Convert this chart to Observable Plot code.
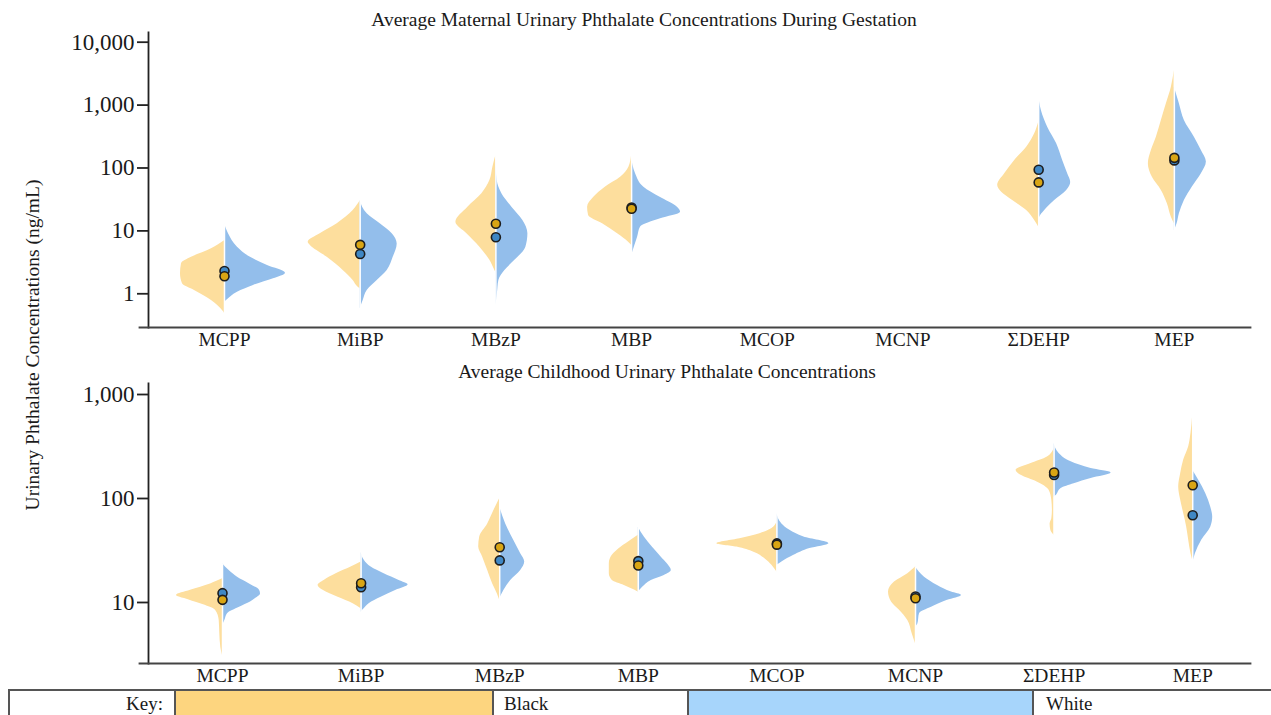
<!DOCTYPE html>
<html>
<head>
<meta charset="utf-8">
<script src="https://cdn.jsdelivr.net/npm/d3@7"></script>
<script src="https://cdn.jsdelivr.net/npm/@observablehq/plot@0.6"></script>
<style>
  html, body { margin: 0; padding: 0; background: #fff; overflow: hidden; }
  #page { position: relative; width: 1271px; height: 715px; font-family: "Liberation Serif", "Times New Roman", serif; color: #1a1a1a; }
  .title { position: absolute; width: 800px; text-align: center; font-size: 19.5px; line-height: 22px; white-space: nowrap; }
  .panel { position: absolute; left: 0; }
  .panel svg { max-width: none; }
  #ylabel { position: absolute; left: -167px; top: 334px; width: 400px; text-align: center; font-size: 19.5px; line-height: 22px; transform: rotate(-90deg); white-space: nowrap; }
  .cell { position: absolute; top: 689px; height: 34px; box-sizing: border-box; border: 2px solid #555; border-right: none; font-size: 19px; line-height: 26px; }
</style>
</head>
<body>
<div id="page">
  <div class="title" style="left:244px; top:9px;">Average Maternal Urinary Phthalate Concentrations During Gestation</div>
  <div class="panel" id="gestation" style="top:30px;"></div>
  <div class="title" style="left:267px; top:361px;">Average Childhood Urinary Phthalate Concentrations</div>
  <div class="panel" id="childhood" style="top:380px;"></div>
  <div id="ylabel">Urinary Phthalate Concentrations (ng/mL)</div>
  <div class="cell" style="left:8px; width:167px; text-align:right; padding-right:12px;">Key:</div>
  <div class="cell" style="left:174px; width:319px; background:#FDD57F;"></div>
  <div class="cell" style="left:492px; width:196px; padding-left:10px;">Black</div>
  <div class="cell" style="left:687px; width:346px; background:#A7D5FB;"></div>
  <div class="cell" style="left:1032px; width:260px; padding-left:12px;">White</div>
</div>
<script>
// Phthalate metabolites, in axis order
const categories = ["MCPP", "MiBP", "MBzP", "MBP", "MCOP", "MCNP", "\u03A3DEHP", "MEP"];

const gestationTicks = [1, 10, 100, 1000, 10000];
const childhoodTicks = [10, 100, 1000];

// Group means (ng/mL); null where the metabolite was not measured
const gestationBlackMean = [1.9, 6.0, 13, 22.5, null, null, 59, 145];
const gestationWhiteMean = [2.3, 4.3, 7.9, 23.5, null, null, 94, 132];
const childhoodBlackMean = [10.6, 15.3, 34, 22.7, 36, 11.0, 178, 134];
const childhoodWhiteMean = [12.3, 14.0, 25.4, 25, 37, 11.4, 168, 69];

// Density profiles: [concentration (ng/mL), density] from high to low concentration
const gestationBlackDensity = [
  [[7.0,0],[5.2,13],[3.8,33],[3.0,43],[2.08,44],[1.44,42],[1.13,30],[0.78,13],[0.54,2],[0.49,0]],
  [[30,0],[21,7],[13,23],[9,40],[6.6,52],[5.9,50],[3.8,33],[2.35,17],[1.63,7],[1.27,2],[1.2,0]],
  [[158,0],[103,3],[63,6],[39,14],[23.8,28],[13.7,40],[9,29],[5.5,16],[3.4,6],[2.35,1],[2.2,0]],
  [[158,0],[103,2.7],[71,11],[50,26],[34,38],[23.8,44],[17.6,43],[13,29],[9,14],[6.6,3],[5.9,0]],
  [],
  [],
  [[535,0],[350,4],[214,12],[132,24],[81,34],[53,41],[41,37],[30.4,26],[21,12],[14.6,4],[11.5,0]],
  [[3550,0],[1930,3],[1050,8],[570,13],[309,18],[190,23],[117,26],[71,22],[44,13],[27,7],[16.5,3],[13,0]]
];
const gestationWhiteDensity = [
  [[13,0],[9,4],[5.5,13],[3.8,26],[2.82,43],[2.13,61],[1.73,49],[1.36,29],[1.06,13],[0.78,2],[0.73,0]],
  [[30,0],[18.7,7],[13,20],[9,32],[6.2,37],[3.8,33],[2.35,27],[1.63,17],[1.13,7],[0.78,3],[0.58,0]],
  [[140,0],[63,1.3],[39,6],[23.8,16],[14.6,27],[9,32],[5.5,30],[3.4,19],[2.35,9],[1.63,3],[1.0,1.5],[0.65,0]],
  [[149,0],[81,4],[50,12],[34,29],[25,44],[19.8,49],[15.6,29],[11.5,9],[7.9,6],[5.5,2.7],[4.06,0]],
  [],
  [],
  [[1420,0],[820,2.7],[445,9],[243,18],[132,24],[81,29],[59,32],[44,28],[30.4,16],[21,6],[16.5,1],[14.6,0]],
  [[1930,0],[1050,5],[570,10],[309,20],[190,27],[124,32],[81,27],[50,18],[30.4,10],[18.7,5],[13,2.7],[10.1,0]]
];
const childhoodBlackDensity = [
  [[16.9,0],[15.1,12],[13.1,32],[11.7,46],[10.9,38],[9.7,22],[8.4,7],[6.7,3.3],[5.0,2.7],[3.7,1.7],[3.1,0]],
  [[24.5,0],[21.9,10],[18.9,25],[16.3,37],[14.6,43],[13.1,38],[11.2,23],[9.7,8],[8.7,0]],
  [[100,0],[77,5.7],[57,12],[42.6,20],[34.1,21],[27.3,17],[20.3,12],[15.1,7],[12.1,2.3],[10.5,0]],
  [[44.3,0],[39.6,7.3],[34.1,17],[28.4,26],[23.6,29],[18.9,29],[16.3,26],[14.6,14],[13.1,3.3],[12.6,0]],
  [[59.4,0],[53,3.3],[45.9,17],[41.1,37],[36.8,60],[34.1,40],[30.5,23],[26.4,12],[22.8,5],[19.6,0]],
  [[21.9,0],[18.9,7.7],[15.7,21],[12.6,27],[10.1,24],[8.4,16],[6.7,7.7],[5.0,3.3],[4.0,0]],
  [[303,0],[251,6.7],[217,23],[187,38],[167,33],[144,17],[120,5],[96,2.3],[77,1.7],[64,2.3],[57,4],[49.4,3.3],[44.3,0]],
  [[634,0],[423,1.7],[314,4],[234,9],[174,12],[129,14],[96,12],[71.6,9],[53,6],[39.6,4],[29.4,1.7],[25.4,0]]
];
const childhoodWhiteDensity = [
  [[23.6,0],[20.3,6.7],[17.5,15],[15.1,27],[13.1,37],[12.1,38],[10.9,33],[10.1,28],[9.0,17],[7.8,5],[6.7,2.3],[6.0,0]],
  [[30.5,0],[25.4,3.3],[21.9,10],[18.9,23],[16.3,38],[14.8,47],[13.1,35],[11.2,20],[9.7,8],[8.7,3],[8.1,0]],
  [[83,0],[57,6],[39.6,14],[29.4,21],[24.5,25],[20.3,21],[16.3,11],[13.1,4.3],[10.9,0]],
  [[53,0],[42.6,6],[34.1,14],[27.3,23],[23.6,29],[20.3,33],[18.2,26],[16.3,13],[14.0,4.3],[12.6,0]],
  [[71.6,0],[57,5],[49.4,13],[42.6,27],[36.8,52],[33,33],[28.4,17],[24.5,5],[22.8,0]],
  [[21.9,0],[17.5,9],[14.6,22],[12.6,36],[11.7,46],[10.5,32],[9.0,16],[7.8,4],[6.2,2.3],[5.8,0]],
  [[339,0],[271,5],[225,17],[194,37],[176,57],[156,37],[139,20],[125,7],[107,2],[103,0]],
  [[187,0],[150,6],[112,13],[83,18],[66,20],[53,18],[39.6,9],[29.4,2.7],[23.6,0]]
];

const BLACK_FILL = "#FDDE9D";
const WHITE_FILL = "#93BEEB";
const BLACK_DOT = "#D9A514";
const WHITE_DOT = "#3F87C4";

// Half-violin outline rows; side -1 draws to the left of the category, +1 to the right
function halfViolin(profiles, side, k) {
  return profiles.flatMap((p, i) =>
    p.map(([v, d]) => ({cat: categories[i], i, v, edge: i + side * d * k})));
}

function spines(black, white) {
  return categories.map((cat, i) => {
    const vs = [...black[i], ...white[i]].map(d => d[0]);
    return vs.length ? {i, lo: d3.min(vs), hi: d3.max(vs)} : null;
  }).filter(Boolean);
}

function means(arr) {
  return arr.map((m, i) => ({i, m})).filter(d => d.m != null);
}

function violinPanel({black, white, blackMean, whiteMean, ticks, height, marginTop, marginBottom, xDomain, yDomain, k}) {
  return Plot.plot({
    width: 1271,
    height,
    marginLeft: 148,
    marginRight: 21,
    marginTop,
    marginBottom,
    style: {fontFamily: "'Liberation Serif', 'Times New Roman', serif", color: "#1a1a1a", background: "transparent", overflow: "visible"},
    x: {domain: xDomain},
    y: {type: "log", domain: yDomain},
    marks: [
      Plot.areaX(halfViolin(black, -1, k), {y: "v", x1: "i", x2: "edge", z: "cat", fill: BLACK_FILL, curve: "monotone-y"}),
      Plot.areaX(halfViolin(white, 1, k), {y: "v", x1: "i", x2: "edge", z: "cat", fill: WHITE_FILL, curve: "monotone-y"}),
      Plot.ruleX(spines(black, white), {x: "i", y1: "lo", y2: "hi", stroke: "white", strokeWidth: 1.5}),
      Plot.dot(means(whiteMean), {x: "i", y: "m", r: 4.5, fill: WHITE_DOT, stroke: "#1d1d1d", strokeWidth: 1.6}),
      Plot.dot(means(blackMean), {x: "i", y: "m", r: 4.5, fill: BLACK_DOT, stroke: "#1d1d1d", strokeWidth: 1.6}),
      Plot.frame({anchor: "left", stroke: "#222", strokeWidth: 1.8}),
      Plot.frame({anchor: "bottom", insetLeft: -9, stroke: "#444", strokeWidth: 1.8}),
      Plot.axisY(ticks, {anchor: "left", tickSize: 11, tickPadding: 3, strokeWidth: 1.8, stroke: "#222",
        tickFormat: d3.format(","), fontSize: 23, label: null}),
      Plot.axisX(d3.range(categories.length), {anchor: "bottom", tickSize: 0, tickPadding: 5,
        tickFormat: i => categories[i], fontSize: 19.5, label: null})
    ]
  });
}

document.getElementById("gestation").append(violinPanel({
  black: gestationBlackDensity, white: gestationWhiteDensity,
  blackMean: gestationBlackMean, whiteMean: gestationWhiteMean,
  ticks: gestationTicks, height: 330, marginTop: 2, marginBottom: 33,
  xDomain: [-0.560, 7.561], yDomain: [0.291, 14260], k: 1 / 135.7
}));

document.getElementById("childhood").append(violinPanel({
  black: childhoodBlackDensity, white: childhoodWhiteDensity,
  blackMean: childhoodBlackMean, whiteMean: childhoodWhiteMean,
  ticks: childhoodTicks, height: 310, marginTop: 3, marginBottom: 27,
  xDomain: [-0.534, 7.417], yDomain: [2.59, 1276], k: 1 / 138.6
}));
</script>
</body>
</html>
